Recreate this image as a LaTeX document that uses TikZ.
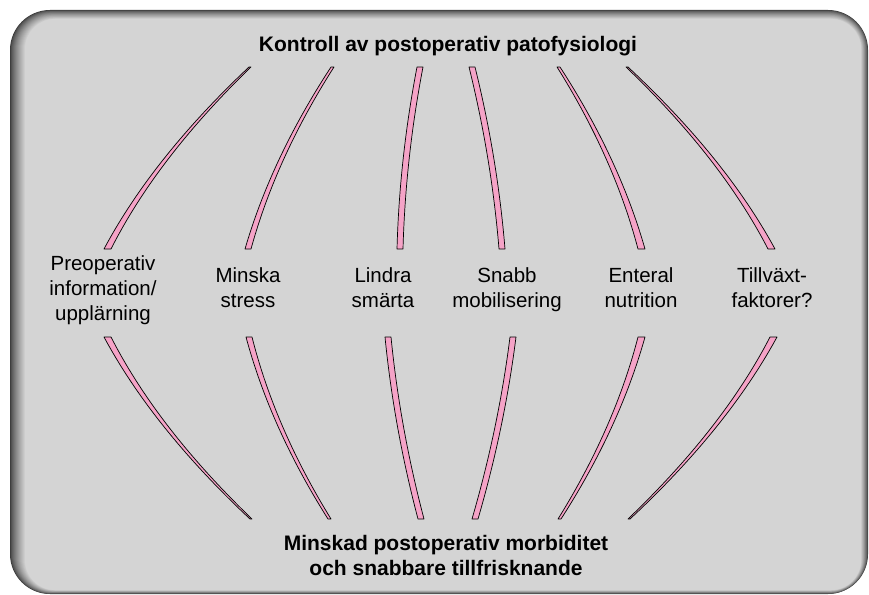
\documentclass[tikz,border=0pt]{standalone}
\usepackage{fontspec}
\setmainfont{Liberation Sans}
\definecolor{bandpink}{RGB}{245,163,199}
\definecolor{panel}{RGB}{212,212,212}
\newcommand\bandshape[7]{%
  \draw[bandstyle]
    (#1,#2) .. controls ({#1+(#4-#1)/3+#7},{#2+(#5-#2)/3}) and ({#1+2*(#4-#1)/3+#7},{#2+2*(#5-#2)/3}) .. (#4,#5)
    -- ({#4+#6},#5)
    .. controls ({#1+2*(#4-#1)/3+#7+#3+2*(#6-#3)/3},{#2+2*(#5-#2)/3}) and ({#1+(#4-#1)/3+#7+#3+(#6-#3)/3},{#2+(#5-#2)/3}) .. ({#1+#3},#2)
    -- cycle;}
\begin{document}
\begin{tikzpicture}[x=1pt,y=-1pt,
  bandstyle/.style={fill=bandpink,draw=black,line width=0.7pt,line join=round},
  titlefont/.style={font=\fontsize{21}{25}\selectfont\bfseries,align=center},
  lab/.style={font=\fontsize{20.5}{25}\selectfont,align=center}]
\useasboundingbox (0,0) rectangle (869,594);
% bevelled frame
\foreach \i in {0,...,15}{
  \pgfmathsetmacro\t{\i/15}
  \pgfmathsetmacro\g{int(62+150*(\t^0.75))}
  \definecolor{bev}{RGB}{\g,\g,\g}
  \pgfmathsetmacro\rr{40-10*\t}
  \fill[bev,rounded corners=\rr pt] ({10+15*\t},{10+9*\t}) rectangle ({868-7*\t},{594-4*\t});
}
\fill[panel,rounded corners=30pt] (25,19) rectangle (861,590);
% titles
\node[titlefont,anchor=base] (top) at (448,52) {Kontroll av postoperativ patofysiologi};
\node[titlefont,anchor=base] (bot) at (446,575) {Minskad postoperativ morbiditet\\och snabbare tillfrisknande};
% labels (base = last line)
\node[lab,anchor=base] (l1) at (103,320) {Preoperativ\\information/\\upplärning};
\node[lab,anchor=base] (l2) at (248,307) {Minska\\stress};
\node[lab,anchor=base] (l3) at (383,307) {Lindra\\smärta};
\node[lab,anchor=base] (l4) at (507,307) {Snabb\\mobilisering};
\node[lab,anchor=base] (l5) at (641,307) {Enteral\\nutrition};
\node[lab,anchor=base] (l6) at (772,307) {Tillväxt-\\faktorer?};
% upper bands
\bandshape{249}{67}{2}{104}{249}{7}{-16}
\bandshape{331}{67}{3}{245}{249}{6}{-11}
\bandshape{417}{67}{6}{397}{249}{6}{-5}
\bandshape{469}{67}{6}{499}{249}{6}{5}
\bandshape{557}{67}{3}{638}{249}{7}{11}
\bandshape{626}{67}{2}{768}{249}{7}{16}
% lower bands
\bandshape{250}{519}{2}{104}{337}{7}{-16}
\bandshape{328}{519}{3}{246}{337}{6}{-11}
\bandshape{418}{519}{6}{385}{337}{6}{-5}
\bandshape{472}{519}{6}{510}{337}{6}{5}
\bandshape{558}{519}{3}{638}{337}{7}{11}
\bandshape{628}{519}{2}{770}{337}{7}{16}
\end{tikzpicture}
\end{document}
